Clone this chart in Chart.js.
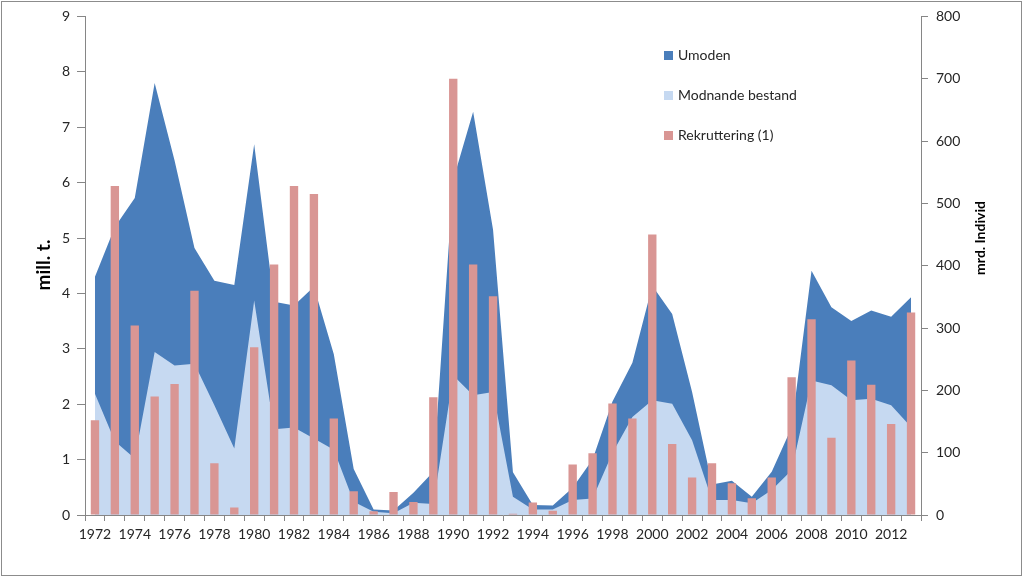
<!DOCTYPE html>
<html>
<head>
<meta charset="utf-8">
<script src="https://cdn.jsdelivr.net/npm/chart.js@4/dist/chart.umd.min.js"></script>
<style>
  html, body { margin: 0; padding: 0; background: #fff; }
  #wrap { width: 1024px; height: 578px; }
</style>
</head>
<body>
<div id="wrap"><canvas id="c" width="1024" height="578"></canvas></div>
<script>
const years = [1972,1973,1974,1975,1976,1977,1978,1979,1980,1981,1982,1983,1984,1985,1986,1987,1988,1989,1990,1991,1992,1993,1994,1995,1996,1997,1998,1999,2000,2001,2002,2003,2004,2005,2006,2007,2008,2009,2010,2011,2012,2013];

// mill. t. (left axis), stacked areas
const modnande = [2.19,1.33,1.02,2.94,2.70,2.73,1.98,1.20,3.87,1.55,1.58,1.38,1.18,0.24,0.06,0.03,0.22,0.20,2.52,2.16,2.22,0.33,0.10,0.10,0.27,0.30,1.12,1.77,2.07,2.01,1.35,0.27,0.27,0.21,0.45,0.81,2.43,2.34,2.07,2.10,1.98,1.59];
const umoden   = [2.11,3.87,4.70,4.86,3.70,2.09,2.25,2.95,2.82,2.30,2.20,2.74,1.72,0.59,0.04,0.05,0.18,0.58,3.53,5.12,2.93,0.44,0.08,0.07,0.22,0.70,0.93,0.98,2.07,1.62,0.87,0.28,0.35,0.12,0.33,0.77,1.98,1.41,1.43,1.59,1.60,2.34];

// mrd. individ (right axis), bars
const rekruttering = [152,528,304,190,210,360,83,12,269,402,528,515,155,38,6,37,21,189,700,402,351,2,20,7,81,99,179,155,450,114,60,83,51,27,60,221,314,124,248,209,146,325];

const leftTicks = [0,1,2,3,4,5,6,7,8,9];
const rightTicks = [0,100,200,300,400,500,600,700,800];

const C_DARK = '#4A7EBB';
const C_LIGHT = '#C6D9F1';
const C_BAR = '#D99694';
const AXIS = '#868686';
const TXT = '#262626';

Chart.defaults.font.family = 'Lato, "Open Sans", sans-serif';
Chart.defaults.font.size = 14;
Chart.defaults.color = TXT;

const overlay = {
  id: 'overlay',
  afterDraw(chart) {
    const ctx = chart.ctx;
    ctx.save();
    // frame
    ctx.strokeStyle = '#8c8c8c';
    ctx.lineWidth = 1;
    ctx.strokeRect(1.5, 1.5, 1020, 574);
    // axis titles
    ctx.fillStyle = '#000';
    ctx.textAlign = 'center';
    ctx.textBaseline = 'middle';
    ctx.save();
    ctx.translate(44, 265);
    ctx.rotate(-Math.PI / 2);
    ctx.font = 'bold 19px Lato, sans-serif';
    ctx.fillText('mill. t.', 0, 0);
    ctx.restore();
    ctx.save();
    ctx.translate(980, 238);
    ctx.rotate(-Math.PI / 2);
    ctx.font = 'bold 14px Lato, sans-serif';
    ctx.fillText('mrd. Individ', 0, 0);
    ctx.restore();
    // legend
    const ds = chart.data.datasets;
    ctx.font = '14px Lato, sans-serif';
    ctx.textAlign = 'left';
    const rows = [55.5, 95.5, 135.5];
    ds.forEach((d, i) => {
      ctx.fillStyle = d.backgroundColor;
      ctx.fillRect(664, rows[i] - 4.5, 9, 9);
      ctx.fillStyle = TXT;
      ctx.fillText(d.label, 678, rows[i]);
    });
    ctx.restore();
  }
};

new Chart(document.getElementById('c'), {
  type: 'bar',
  data: {
    labels: years.map(String),
    datasets: [
      {
        type: 'line', label: 'Umoden', data: umoden, yAxisID: 'y',
        backgroundColor: C_DARK, borderColor: 'rgba(0,0,0,0)', borderWidth: 0,
        pointRadius: 0, tension: 0, fill: 'origin', order: 2
      },
      {
        type: 'line', label: 'Modnande bestand', data: modnande, yAxisID: 'y',
        backgroundColor: C_LIGHT, borderColor: 'rgba(0,0,0,0)', borderWidth: 0,
        pointRadius: 0, tension: 0, fill: 'origin', order: 1
      },
      {
        type: 'bar', label: 'Rekruttering (1)', data: rekruttering, yAxisID: 'y1',
        backgroundColor: C_BAR, borderWidth: 0,
        barPercentage: 1, categoryPercentage: 0.42, order: 0
      }
    ]
  },
  options: {
    responsive: false,
    animation: false,
    devicePixelRatio: 1,
    layout: { padding: { top: 15, left: 0, right: 0, bottom: 0 } },
    plugins: { legend: { display: false }, tooltip: { enabled: false } },
    scales: {
      x: {
        offset: true,
        grid: { drawOnChartArea: false, offset: true, tickLength: 6, color: AXIS },
        border: { color: AXIS },
        ticks: {
          autoSkip: false, maxRotation: 0, minRotation: 0, padding: 5, color: TXT,
          callback: function (v, i) { return i % 2 === 0 ? this.getLabelForValue(v) : ''; }
        },
        afterFit: s => { s.height = 63; }
      },
      y: {
        position: 'left', stacked: true, min: 0, max: 9,
        afterBuildTicks: s => { s.ticks = leftTicks.map(v => ({ value: v })); },
        grid: { drawOnChartArea: false, tickLength: 8, color: AXIS },
        border: { color: AXIS },
        ticks: { padding: 7, color: TXT },
        afterFit: s => { s.width = 85; }
      },
      y1: {
        position: 'right', min: 0, max: 800,
        afterBuildTicks: s => { s.ticks = rightTicks.map(v => ({ value: v })); },
        grid: { drawOnChartArea: false, tickLength: 7, color: AXIS },
        border: { color: AXIS },
        ticks: { padding: 8, color: TXT },
        afterFit: s => { s.width = 103; }
      }
    }
  },
  plugins: [overlay]
});
</script>
</body>
</html>
